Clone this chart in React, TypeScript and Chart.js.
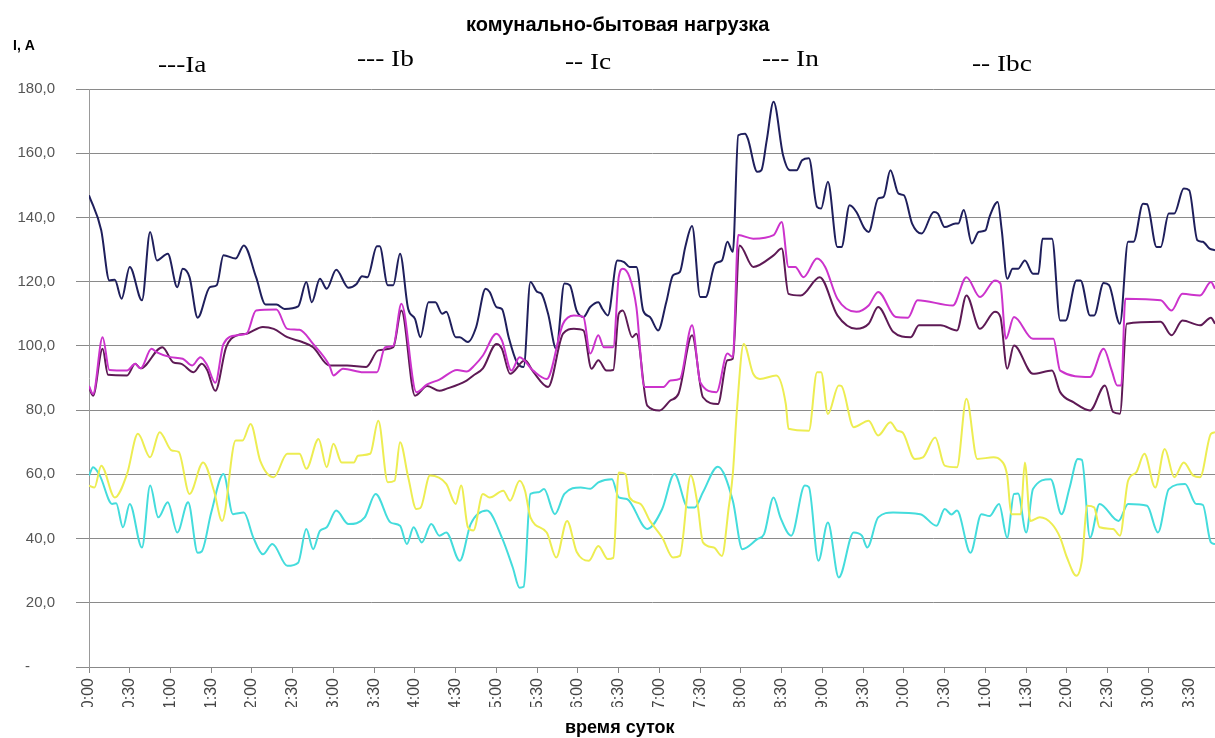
import React, { useEffect, useRef } from "react";
import { Chart, registerables } from "chart.js";

Chart.register(...registerables);

const TITLE = "комунально-бытовая нагрузка";
const X_TITLE = "время суток";
const Y_TITLE = "I, A";
const LEGEND_TEXT = ["---Ia", "--- Ib", "-- Ic", "--- In", "-- Ibc"];

const X_LABELS = [
  "0:00", "0:30", "1:00", "1:30", "2:00", "2:30", "3:00", "3:30", "4:00", "4:30",
  "5:00", "5:30", "6:00", "6:30", "7:00", "7:30", "8:00", "8:30", "9:00", "9:30",
  "10:00", "10:30", "11:00", "11:30", "12:00", "12:30", "13:00", "13:30",
];

// [minutes, current A]
const IA: [number, number][] = [
  [0, 146.9], [9, 136], [15, 120.4], [19, 120.6], [24, 114.7], [30, 124.6], [39, 114.2], [45, 135.5], [50, 126.6], [58, 128.7],
  [65, 118.3], [69, 124], [74, 121.4], [80, 108.8], [89, 118.3], [94, 118.9], [99, 128.2], [108, 127.2], [114, 131.3], [123, 121.4],
  [130, 112.9], [138, 112.9], [144, 111.5], [154, 112.3], [160, 119.9], [164, 113.6], [170, 120.9], [175, 117.8], [182, 123.7], [191, 118.1],
  [197, 119.3], [201, 121.7], [205, 121.4], [212, 131], [214, 131], [220, 118.9], [224, 118.9], [229, 128.7], [235, 111.5], [240, 108.4],
  [244, 102.7], [250, 113.6], [255, 113.6], [260, 110], [263, 110.6], [270, 102.7], [273, 102.7], [279, 101.2], [285, 105.8], [292, 117.8],
  [295, 116.8], [300, 112.1], [304, 111.5], [309, 102.7], [315, 94.9], [320, 93.4], [325, 119.9], [330, 116.8], [333, 116.3], [338, 110],
  [344, 99.1], [350, 119.4], [354, 118.9], [359, 111], [364, 109], [369, 112.1], [375, 113.6], [378, 111.5], [382, 109.5], [389, 126.6],
  [394, 126.1], [398, 124.6], [403, 124.6], [408, 111], [413, 109], [419, 104.8], [425, 113.6], [430, 122], [435, 123], [439, 130.8],
  [444, 137.3], [450, 115.2], [454, 115.2], [461, 125.6], [466, 126.6], [470, 132.4], [474, 129.3], [478, 165.6], [483, 166.1], [485, 164.6],
  [492, 154.2], [495, 154.7], [499, 164.1], [504, 176], [511, 159.4], [516, 154.7], [521, 154.7], [525, 157.8], [530, 158.4], [536, 143.3],
  [539, 142.8], [544, 151.1], [551, 130.8], [554, 130.8], [560, 143.8], [565, 141.7], [571, 136.5], [574, 135.5], [581, 145.9], [585, 146.4],
  [590, 154.7], [596, 147.4], [600, 146.9], [606, 138.1], [613, 135], [622, 141.7], [625, 141.2], [630, 137], [638, 138.1], [640, 138.1],
  [644, 142.3], [650, 131.9], [655, 135.5], [660, 136], [663, 140.2], [669, 144.8], [672, 136], [676, 120.9], [680, 124], [684, 124],
  [689, 126.6], [695, 122.5], [699, 122.5], [702, 133.4], [709, 133.4], [715, 107.9], [719, 107.9], [727, 120.4], [730, 120.4], [737, 109.5],
  [740, 109.5], [747, 119.6], [751, 118.9], [759, 106.9], [765, 132.4], [769, 132.4], [776, 144.3], [779, 144.1], [786, 130.8], [789, 130.8],
  [795, 141.2], [799, 141.2], [806, 149], [810, 148.5], [816, 132.9], [820, 132.4], [825, 130.3], [829, 129.8],
];

const IB: [number, number][] = [
  [0, 87.5], [3, 85], [10, 102.7], [15, 92.5], [28, 92.3], [34, 94.4], [38, 93], [46, 99.1], [50, 98], [60, 96.5],
  [69, 96], [76, 93.9], [82, 96.5], [87, 94], [93, 88.5], [99, 100.6], [109, 103.3], [116, 103.8], [123, 111], [138, 111.3],
  [146, 105.3], [155, 105], [165, 100.6], [177, 93.9], [180, 90.8], [187, 92.9], [202, 91.8], [212, 91.8], [218, 99.6], [224, 100],
  [230, 113.1], [241, 85.6], [249, 88], [258, 89.5], [271, 92.5], [278, 92], [284, 94], [290, 97], [300, 103.8], [304, 101.7],
  [311, 92.3], [317, 96.5], [327, 92.3], [337, 89.7], [349, 106.9], [357, 109.5], [364, 109], [369, 97.6], [375, 103.3], [379, 99.6],
  [386, 99.6], [390, 121.4], [393, 124], [398, 121.4], [403, 112.1], [409, 87.2], [423, 87.2], [428, 89.2], [435, 89.7], [444, 106.4],
  [450, 88.7], [462, 85.6], [470, 97.6], [474, 96.5], [478, 134.5], [489, 133.4], [504, 134.5], [510, 138.6], [515, 124.6], [520, 124.6],
  [526, 121.4], [536, 127.2], [542, 124.6], [551, 114.7], [565, 110.6], [574, 112.6], [581, 116.8], [594, 109], [603, 108.8], [610, 114.2],
  [636, 112.6], [646, 121.4], [656, 115.2], [667, 120.4], [671, 119.4], [675, 102.2], [681, 109], [695, 102.2], [710, 102.2], [715, 92.3],
  [737, 90.3], [747, 99.1], [753, 92.3], [757, 87.7], [760, 87.7], [763, 114.7], [789, 114.2], [797, 111], [805, 116.2], [818, 115.7],
  [826, 119.9], [829, 117.8],
];

const IC: [number, number][] = [
  [0, 87], [3, 84.5], [10, 99.1], [14, 91], [28, 90.8], [34, 94.4], [38, 93], [54, 99.6], [62, 94.9], [68, 94.4],
  [77, 91.8], [83, 94.4], [87, 92.5], [93, 86], [101, 99.6], [109, 103.3], [116, 103.8], [128, 105.9], [136, 105.3], [146, 102.7],
  [157, 101.2], [165, 99.6], [177, 93.9], [190, 93.9], [204, 93.4], [213, 98.6], [224, 99.6], [230, 111], [240, 84.5], [249, 87.5],
  [258, 86], [263, 86.6], [278, 89.2], [283, 90.8], [290, 93], [300, 100.6], [304, 99.1], [310, 91.3], [321, 95.5], [327, 92],
  [338, 87.2], [349, 103.8], [357, 105.3], [364, 104.8], [370, 92.9], [375, 95.5], [381, 92.3], [386, 92.5], [390, 110], [393, 111],
  [400, 102.7], [403, 103.8], [411, 81.4], [420, 79.9], [428, 83], [434, 85.1], [444, 103.3], [452, 84], [463, 81.9], [470, 95.5],
  [474, 96], [479, 131.3], [489, 124.6], [504, 128.2], [510, 130.3], [515, 116.2], [524, 115.7], [538, 121.4], [551, 109.5], [565, 105.3],
  [574, 106.9], [581, 112.1], [592, 104.4], [605, 102.7], [611, 106.4], [627, 106.4], [639, 104.8], [646, 115.7], [656, 105.3], [667, 110.6],
  [671, 109], [676, 92.9], [681, 100.1], [695, 91.3], [709, 92.3], [715, 85.6], [725, 82.4], [737, 79.9], [748, 87.7], [754, 79.4],
  [759, 78.9], [764, 106.9], [789, 107.5], [797, 103.3], [805, 107.9], [818, 106.4], [826, 108.8], [829, 106.9],
];

const IN: [number, number][] = [
  [0, 59.6], [3, 62.2], [8, 59.6], [17, 50.8], [20, 51], [25, 43.5], [30, 50.8], [39, 37.2], [45, 56.5], [51, 46.6],
  [58, 51.3], [65, 41.9], [73, 51.3], [80, 35.6], [83, 36], [90, 48.1], [99, 60.1], [106, 47.6], [114, 48.1], [121, 40.3],
  [128, 35.1], [135, 38.3], [146, 31.5], [154, 32.5], [160, 43], [165, 36.7], [170, 42.4], [175, 43.5], [182, 48.7], [191, 44.5],
  [203, 46.6], [211, 53.9], [222, 45], [229, 44], [234, 38.3], [239, 43.5], [245, 38.8], [252, 44.5], [258, 40.9], [263, 41.9],
  [273, 33.1], [281, 44.5], [293, 48.7], [304, 40.3], [312, 31], [317, 24.7], [320, 25], [325, 53.9], [331, 54.4], [335, 55.4],
  [343, 47.6], [350, 53.9], [362, 55.9], [369, 55.5], [375, 57.5], [385, 58.5], [390, 52.8], [396, 52.3], [411, 43], [422, 49.2],
  [431, 60.1], [441, 49.7], [446, 49.7], [452, 54.4], [463, 62.4], [474, 51.8], [481, 36.7], [492, 39.8], [497, 41.4], [504, 52.8],
  [509, 46.6], [517, 40.9], [527, 56.5], [530, 56], [537, 33.1], [544, 45], [552, 27.9], [563, 41.9], [569, 40.9], [573, 37.2],
  [581, 46.6], [592, 48.1], [612, 47.6], [624, 44], [630, 49.2], [635, 47.5], [639, 48.7], [649, 35.6], [657, 47.6], [663, 47],
  [670, 50.8], [676, 40.3], [681, 53.9], [684, 54], [690, 41.9], [695, 55.4], [708, 58.5], [716, 47.6], [722, 55.9], [728, 64.8],
  [731, 64.5], [737, 40.3], [744, 50.8], [758, 45.5], [765, 50.8], [779, 50.2], [787, 41.9], [795, 55.4], [807, 57], [815, 50.8],
  [820, 50.5], [826, 38.8], [829, 38.3],
];

const IBC: [number, number][] = [
  [0, 56.5], [4, 55.9], [9, 62.7], [19, 52.8], [28, 60.1], [36, 72.6], [45, 65.3], [52, 73.1], [61, 67.4], [66, 67],
  [74, 53.9], [84, 63.7], [92, 54.9], [98, 45.5], [108, 70.5], [113, 70.5], [119, 75.7], [126, 64.3], [136, 59.1], [146, 66.4],
  [155, 66.4], [160, 61.7], [169, 71], [175, 62.2], [180, 69.5], [186, 63.7], [195, 63.7], [198, 65.8], [207, 66.4], [213, 76.7],
  [220, 57.5], [225, 58], [229, 70], [235, 59.1], [241, 49.2], [244, 49.5], [251, 59.6], [263, 57], [270, 50.8], [274, 56.5],
  [279, 43.5], [283, 42.5], [290, 53.9], [295, 52.8], [305, 54.9], [310, 51.8], [317, 58], [321, 54.9], [325, 46.6], [337, 41.9],
  [344, 34.1], [352, 45.5], [359, 35.9], [368, 33.1], [375, 37.7], [382, 33.6], [386, 34], [390, 60.6], [395, 60.1], [398, 52.8],
  [406, 50.8], [413, 45.5], [422, 40.3], [430, 34.1], [435, 34.6], [443, 59.6], [448, 50.8], [452, 38.8], [460, 37.2], [466, 34.6],
  [471, 49.7], [474, 60.1], [477, 79.9], [482, 100.6], [489, 91.3], [494, 89.7], [506, 90.8], [513, 81.9], [515, 74.2], [530, 73.6],
  [536, 91.8], [539, 91.8], [544, 78.8], [552, 87.7], [554, 87.5], [563, 74.7], [574, 76.7], [581, 72.1], [590, 76.2], [595, 73.6],
  [599, 73], [608, 64.8], [614, 65.3], [623, 71.5], [630, 62.7], [639, 62.2], [646, 83.5], [654, 64.8], [666, 65.3], [671, 64.5],
  [676, 59.6], [679, 47.6], [686, 47.6], [689, 63.7], [693, 45.5], [700, 46.6], [709, 44.5], [715, 40.3], [720, 34.1], [727, 28.4],
  [731, 33.1], [735, 50.2], [740, 49.7], [744, 43.5], [754, 43], [759, 40.9], [765, 58], [771, 60.6], [777, 66.4], [785, 55.9],
  [792, 67.9], [799, 59.1], [806, 63.7], [813, 59.6], [818, 59.1], [826, 72.6], [829, 73.1],
];

const SERIES = [
  { name: "Ibc", data: IBC, color: "#eded52" },
  { name: "In", data: IN, color: "#44dcdc" },
  { name: "Ib", data: IB, color: "#cc33cc" },
  { name: "Ic", data: IC, color: "#5e1a55" },
  { name: "Ia", data: IA, color: "#1f1f5c" },
];

const textPlugin = {
  id: "textPlugin",
  afterDraw(chart: any) {
    const ctx = chart.ctx as CanvasRenderingContext2D;
    const xs = chart.scales.x;
    ctx.save();
    ctx.fillStyle = "#000";
    ctx.textBaseline = "alphabetic";
    ctx.textAlign = "left";
    ctx.font = 'bold 20px "Liberation Sans", Arial, sans-serif';
    ctx.fillText(TITLE, 466, 31);
    ctx.font = 'bold 14px "Liberation Sans", Arial, sans-serif';
    ctx.fillText(Y_TITLE, 13, 50);
    ctx.font = 'bold 18px "Liberation Sans", Arial, sans-serif';
    ctx.fillText(X_TITLE, 565, 733);

    const legendX = [158, 357, 565, 762, 972];
    const legendY = [72, 66, 69, 66, 71];
    ctx.font = '21px "Liberation Serif", "Times New Roman", serif';
    LEGEND_TEXT.forEach((t, i) => {
      ctx.save();
      ctx.translate(legendX[i], legendY[i]);
      ctx.scale(1.3, 1.05);
      ctx.fillText(t, 0, 0);
      ctx.restore();
    });

    // rotated x tick labels, clipped like the original
    ctx.fillStyle = "#444";
    ctx.font = '16px "Liberation Sans", Arial, sans-serif';
    X_LABELS.forEach((lab, i) => {
      const x = xs.getPixelForValue(i * 30);
      ctx.save();
      ctx.beginPath();
      ctx.rect(x - 12, 674, 24, 33);
      ctx.clip();
      ctx.translate(x, 678);
      ctx.rotate(-Math.PI / 2);
      ctx.textAlign = "right";
      ctx.textBaseline = "middle";
      ctx.fillText(lab, 0, 0);
      ctx.restore();
    });
    ctx.restore();
  },
};

export default function App() {
  const ref = useRef<HTMLCanvasElement | null>(null);
  useEffect(() => {
    document.body.style.margin = "0";
    const canvas = ref.current;
    if (!canvas) return;
    const chart = new Chart(canvas, {
      type: "line",
      data: {
        datasets: SERIES.map((s) => ({
          label: s.name,
          data: s.data.map(([x, y]) => ({ x, y })),
          borderColor: s.color,
          backgroundColor: s.color,
          borderWidth: 2,
          pointRadius: 0,
          fill: false,
          cubicInterpolationMode: "monotone" as const,
        })),
      },
      options: {
        responsive: false,
        animation: false,
        devicePixelRatio: 1,
        layout: { padding: { top: 89, left: 0, right: 0, bottom: 0 } },
        plugins: { legend: { display: false }, tooltip: { enabled: false }, title: { display: false } },
        scales: {
          x: {
            type: "linear",
            min: 0,
            max: 829,
            afterFit: (s: any) => {
              s.height = 71;
            },
            ticks: { display: false, stepSize: 30, autoSkip: false },
            grid: { drawOnChartArea: false, drawTicks: true, tickLength: 6, color: "#888" },
            border: { display: true, color: "#888" },
          },
          y: {
            min: 0,
            max: 180,
            afterFit: (s: any) => {
              s.width = 89;
            },
            ticks: {
              stepSize: 20,
              padding: 21,
              color: "#555",
              font: { family: '"Liberation Sans", Arial, sans-serif', size: 15 },
              callback: (v: any) => (Number(v) === 0 ? "-      " : Number(v).toFixed(1).replace(".", ",")),
            },
            grid: { color: "#8a8a8a", tickLength: 13, lineWidth: 1 },
            border: { display: true, color: "#999" },
          },
        },
      },
      plugins: [textPlugin],
    });
    return () => chart.destroy();
  }, []);
  return (
    <div style={{ width: 1215, height: 738, background: "#fff" }}>
      <canvas ref={ref} width={1215} height={738} style={{ display: "block" }} />
    </div>
  );
}
